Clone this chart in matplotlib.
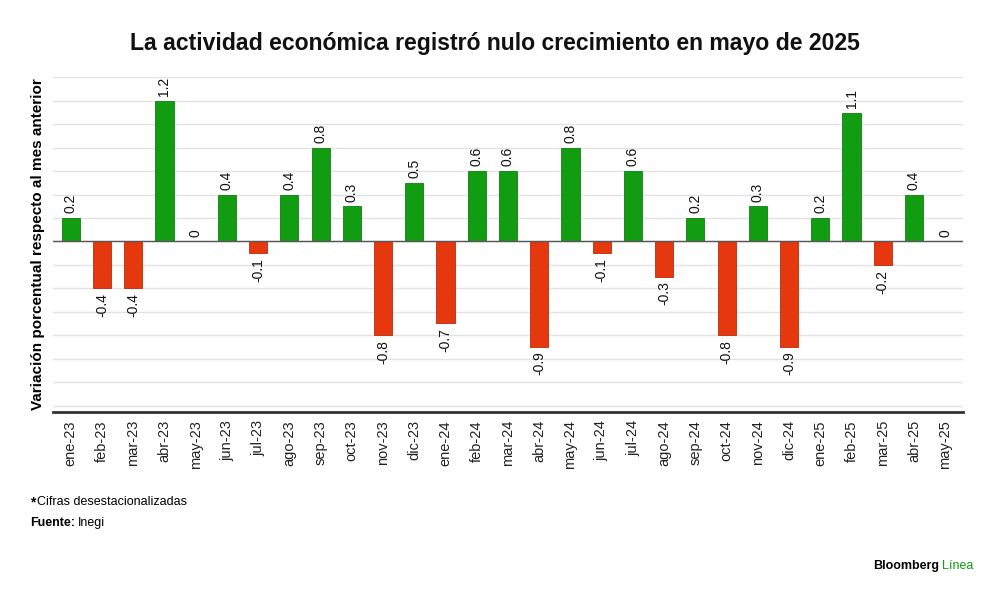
import numpy as np
import matplotlib
matplotlib.use("Agg")
import matplotlib.pyplot as plt

months = ["ene-23", "feb-23", "mar-23", "abr-23", "may-23", "jun-23", "jul-23",
          "ago-23", "sep-23", "oct-23", "nov-23", "dic-23", "ene-24", "feb-24",
          "mar-24", "abr-24", "may-24", "jun-24", "jul-24", "ago-24", "sep-24",
          "oct-24", "nov-24", "dic-24", "ene-25", "feb-25", "mar-25", "abr-25",
          "may-25"]
values = [0.2, -0.4, -0.4, 1.2, 0, 0.4, -0.1, 0.4, 0.8, 0.3, -0.8, 0.5, -0.7,
          0.6, 0.6, -0.9, 0.8, -0.1, 0.6, -0.3, 0.2, -0.8, 0.3, -0.9, 0.2, 1.1,
          -0.2, 0.4, 0]
labels = ["0.2", "-0.4", "-0.4", "1.2", "0", "0.4", "-0.1", "0.4", "0.8", "0.3",
          "-0.8", "0.5", "-0.7", "0.6", "0.6", "-0.9", "0.8", "-0.1", "0.6", "-0.3",
          "0.2", "-0.8", "0.3", "-0.9", "0.2", "1.1", "-0.2", "0.4", "0"]

GREEN = "#119c11"
RED = "#e5380f"

plt.rcParams["font.family"] = ["Liberation Sans", "DejaVu Sans"]

fig = plt.figure(figsize=(10, 5.95), dpi=100)
ax = fig.add_axes([0.053, 0.308, 0.91, 0.562])

x = np.arange(len(months))
vals = np.array(values)
colors = [GREEN if v >= 0 else RED for v in vals]
edges = ["#0e800e" if v >= 0 else "#b82c0a" for v in vals]
ax.bar(x, vals, width=0.58, color=colors, edgecolor=edges, linewidth=0.6, zorder=3)

for xi, v, lab in zip(x, vals, labels):
    if v >= 0:
        ax.text(xi, v + 0.04, lab, rotation=90, ha="center", va="bottom",
                fontsize=10, color="#111111")
    else:
        ax.text(xi, v - 0.04, lab, rotation=90, ha="center", va="top",
                fontsize=10, color="#111111")

ax.set_xlim(-0.57, len(months) - 0.43)
ax.set_ylim(-1.453, 1.4)
ax.set_yticks(np.arange(-1.4, 1.41, 0.2))
ax.yaxis.grid(True, color="#e3e3e3", linewidth=1, zorder=0)
ax.tick_params(axis="y", length=0, labelleft=False)
ax.axhline(0, color="#555555", linewidth=1, zorder=4)

ax.set_xticks(x)
ax.set_xticklabels(months, rotation=90, fontsize=10.5, color="#222222")
ax.tick_params(axis="x", length=0, pad=6)

for s in ["top", "right", "left"]:
    ax.spines[s].set_visible(False)
ax.spines["bottom"].set_color("#333333")
ax.spines["bottom"].set_linewidth(2)

ax.set_ylabel("Variación porcentual respecto al mes anterior", fontsize=11,
              fontweight="bold", labelpad=6)

fig.text(0.495, 0.927, "La actividad económica registró nulo crecimiento en mayo de 2025",
         ha="center", va="center", fontsize=16.6, fontweight="bold", color="#111111")

fig.text(0.030, 0.156, "*", fontsize=10, fontweight="bold", va="center")
fig.text(0.037, 0.156, "Cifras desestacionalizadas", fontsize=9, va="center")
fig.text(0.030, 0.121, "Fuente:", fontsize=9, fontweight="bold", va="center")
fig.text(0.078, 0.121, "Inegi", fontsize=9, va="center")

fig.text(0.939, 0.049, "Bloomberg", fontsize=9, fontweight="bold", ha="right", va="center")
fig.text(0.942, 0.049, "Línea", fontsize=9, color=GREEN, ha="left", va="center")

fig.savefig("out.png", dpi=100, facecolor="white")
